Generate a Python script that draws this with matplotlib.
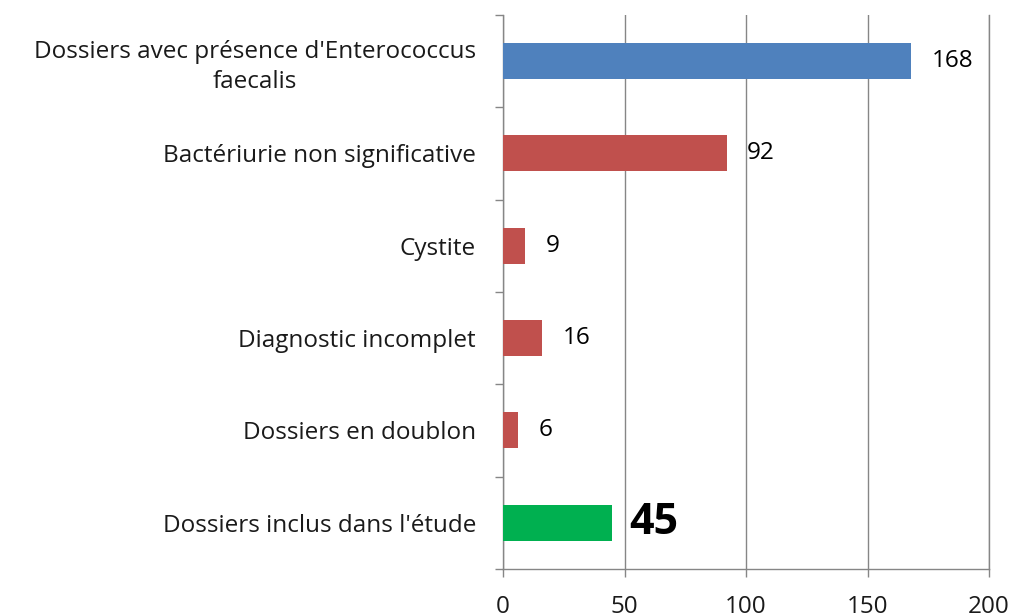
import numpy as np
import matplotlib
matplotlib.use("Agg")
import matplotlib.pyplot as plt

plt.rcParams['font.family'] = ['Open Sans', 'DejaVu Sans']

categories = ["Dossiers avec présence d'Enterococcus\nfaecalis",
              "Bactériurie non significative",
              "Cystite",
              "Diagnostic incomplet",
              "Dossiers en doublon",
              "Dossiers inclus dans l'étude"]
values = [168, 92, 9, 16, 6, 45]
colors = ['#4F81BD', '#C0504D', '#C0504D', '#C0504D', '#C0504D', '#00B050']
xticks = [0, 50, 100, 150, 200]

fig = plt.figure(figsize=(10.13, 6.14), dpi=100)
ax = fig.add_axes([0.4966, 0.0733, 0.4797, 0.9023])

y = np.arange(len(values))
ax.barh(y, values, height=0.39, color=colors, zorder=3)
ax.set_ylim(len(values) - 0.5, -0.5)
ax.set_xlim(0, 200)

# value labels
for i, v in enumerate(values):
    last = (i == len(values) - 1)
    ax.text(v + (7 if last else 8.5), i, str(v), va='center', ha='left',
            fontsize=31 if last else 17.5, fontweight='bold' if last else 'normal',
            color='black')

ax.set_yticks(y)
ax.set_yticklabels(categories, fontsize=17.5, color='#1a1a1a', ha='right',
                   multialignment='center', linespacing=1.3)
ax.tick_params(axis='y', length=0, pad=19.5)
# boundary ticks on the left spine
ax.set_yticks(np.arange(-0.5, len(values), 1), minor=True)
ax.tick_params(axis='y', which='minor', length=6, color='#868686', width=1.0)

ax.set_xticks(xticks)
ax.set_xticklabels([str(t) for t in xticks], fontsize=17.5, color='#1a1a1a')
ax.tick_params(axis='x', length=6, color='#868686', width=1.0, pad=13)

ax.grid(axis='x', color='#868686', linewidth=1.0, zorder=0)
ax.spines['top'].set_visible(False)
for s in ['left', 'bottom', 'right']:
    ax.spines[s].set_color('#868686')
    ax.spines[s].set_linewidth(1.0)

fig.savefig('out.png', dpi=100)
